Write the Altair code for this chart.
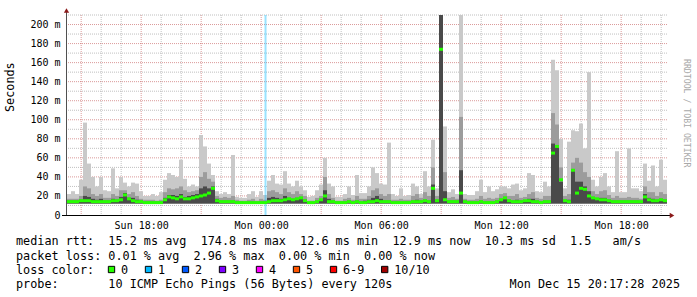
import altair as alt
import pandas as pd

MONO = "DejaVu Sans Mono"

# ---- time frame (RRDtool: 600 px for 30 h) ----
START = pd.Timestamp("2025-12-14 14:17:28", tz="UTC")
END = pd.Timestamp("2025-12-15 20:17:28", tz="UTC")
STEP_MIN = 12  # one value per 12 minutes

# ---- smoke (ms): outer max, mid shade, dark core; median rtt ----
HI = [22, 25, 22, 37, 97, 54, 40, 30, 40, 26, 25, 49, 28, 40, 34, 30, 34, 33, 25, 20, 20, 22, 20, 24, 37, 44, 42, 40, 58, 38,
      30, 32, 30, 84, 72, 54, 42, 25, 22, 24, 22, 63, 19, 18, 18, 22, 25, 19, 25, 21, 36, 42, 33, 32, 46, 33, 30, 36, 30, 26,
      19, 20, 26, 32, 60, 33, 30, 19, 19, 22, 30, 21, 42, 23, 23, 30, 50, 44, 33, 32, 76, 22, 20, 28, 20, 21, 33, 30, 22, 46,
      30, 79, 28, 210, 93, 24, 27, 22, 210, 22, 21, 21, 25, 37, 24, 30, 25, 27, 30, 30, 28, 32, 33, 26, 28, 44, 42, 25, 24, 35,
      30, 163, 152, 80, 28, 77, 89, 88, 96, 70, 150, 37, 30, 40, 44, 30, 24, 67, 24, 24, 70, 28, 28, 25, 54, 36, 52, 30, 58, 37]
MID = [17, 17, 17, 20, 30, 28, 22, 20, 22, 18, 18, 22, 20, 26, 26, 22, 24, 20, 17, 16, 16, 16, 15, 16, 24, 28, 27, 28, 30, 26,
       24, 25, 26, 40, 45, 38, 35, 20, 18, 19, 18, 20, 16, 15, 15, 16, 17, 15, 17, 16, 25, 26, 24, 22, 28, 24, 22, 25, 22, 20,
       15, 15, 18, 20, 40, 22, 18, 15, 15, 17, 18, 16, 20, 17, 17, 20, 26, 28, 22, 20, 22, 16, 16, 17, 16, 16, 20, 22, 18, 24,
       20, 50, 20, 210, 45, 18, 19, 17, 103, 17, 16, 16, 17, 20, 17, 18, 17, 18, 22, 23, 20, 20, 22, 18, 19, 22, 24, 18, 17, 20,
       20, 107, 95, 50, 20, 22, 55, 60, 55, 45, 40, 25, 22, 25, 26, 21, 18, 20, 18, 18, 19, 18, 18, 17, 30, 24, 24, 20, 24, 22]
DK = [15, 15, 15, 16, 20, 19, 17, 16, 17, 15, 15, 17, 16, 19, 23, 18, 18, 16, 15, 14, 14, 14, 14, 14, 18, 21, 21, 20, 22, 19,
      20, 21, 22, 28, 30, 28, 30, 17, 15, 15, 15, 15, 14, 14, 13, 14, 14, 13, 14, 14, 18, 19, 18, 17, 20, 18, 17, 18, 18, 16,
      13, 13, 14, 16, 26, 17, 15, 14, 14, 14, 15, 14, 15, 14, 15, 16, 18, 20, 17, 15, 15, 14, 14, 14, 14, 14, 15, 16, 15, 16,
      15, 32, 16, 210, 25, 15, 15, 15, 47, 15, 14, 14, 14, 15, 14, 14, 14, 15, 17, 19, 16, 15, 16, 15, 15, 17, 17, 15, 14, 15,
      15, 75, 72, 35, 16, 16, 47, 35, 35, 30, 25, 19, 17, 18, 18, 16, 15, 15, 15, 15, 15, 15, 15, 14, 22, 18, 17, 16, 17, 16]
MED = [14, 14, 14, 15, 15, 15, 14, 14, 14, 14, 14, 15, 15, 16, 21, 17, 15, 14, 14, 13, 13, 13, 13, 13, 16, 19, 18, 17, 19, 17,
       17, 18, 19, 20, 21, 23, 28, 15, 14, 14, 14, 14, 13, 13, 13, 13, 13, 13, 13, 13, 14, 15, 15, 15, 16, 17, 16, 17, 18, 15,
       13, 13, 14, 16, 20, 14, 14, 13, 13, 13, 14, 13, 14, 13, 13, 14, 14, 15, 14, 14, 14, 13, 13, 13, 13, 13, 14, 14, 14, 15,
       14, 28, 15, 174, 16, 14, 14, 14, 23, 14, 13, 13, 13, 14, 13, 13, 13, 14, 16, 18, 15, 14, 14, 14, 15, 15, 14, 14, 13, 14,
       14, 65, 72, 37, 15, 14, 47, 23, 28, 27, 20, 18, 17, 16, 16, 15, 14, 14, 14, 14, 14, 14, 14, 14, 19, 16, 15, 15, 16, 15]
SMOKE_FLOOR = 12

LOSS_TIMES = ["2025-12-15 00:13:00"]

# ---- legend texts ----
LINE_RTT = "median rtt:  15.2 ms avg  174.8 ms max  12.6 ms min  12.9 ms now  10.3 ms sd  1.5   am/s"
LINE_LOSS = "packet loss: 0.01 % avg  2.96 % max  0.00 % min  0.00 % now"
LINE_COLOR = "loss color:"
LINE_PROBE = "probe:       10 ICMP Echo Pings (56 Bytes) every 120s"
STAMP = "Mon Dec 15 20:17:28 2025"
LOSS_LABELS = ["0", "1", "2", "3", "4", "5", "6-9", "10/10"]
LOSS_COLORS = ["#26ff00", "#00b8ff", "#0059ff", "#7e00ff", "#ff00ff", "#ff5500", "#ff0000", "#a10000"]
X_LABELS = ["2025-12-14 18:00", "2025-12-15 00:00", "2025-12-15 06:00", "2025-12-15 12:00", "2025-12-15 18:00"]
Y_TICKS = list(range(0, 201, 20))


def ms(ts):
    t = pd.Timestamp(ts)
    if t.tzinfo is None:
        t = t.tz_localize("UTC")
    return int(t.value // 10**6)


step = pd.Timedelta(minutes=STEP_MIN)
starts = [START + step * i for i in range(len(MED))]
df = pd.DataFrame({
    "t0": [ms(t) for t in starts],
    "t1": [ms(t + step) for t in starts],
    "tc": [ms(t + step / 2) for t in starts],
    "hi": HI, "mid": MID, "dk": DK, "med": MED,
    "lo": [SMOKE_FLOOR] * len(MED),
})

XS = alt.Scale(type="utc", domain=[ms(START), ms(END)], nice=False)
YS = alt.Scale(domain=[0, 210], nice=False, clamp=True)
XA = alt.Axis(values=[ms(s) for s in X_LABELS], format="%a %H:%M", labelPadding=5, title=None,
              labelOverlap=False)
YA = alt.Axis(values=Y_TICKS, labelExpr="datum.value == 0 ? '0' : datum.value + ' m'",
              labelPadding=7, title=None)


def X(f):
    return alt.X(f, scale=XS, axis=XA)


def Y(f):
    return alt.Y(f, scale=YS, axis=YA)


hours = pd.date_range("2025-12-14 15:00", "2025-12-15 20:00", freq="h", tz="UTC")
minor_t = [ms(h) for h in hours if h.hour % 3 != 0]
major_t = [ms(h) for h in hours if h.hour % 3 == 0]
minor_v = [v for v in range(10, 211, 10) if v % 20 != 0]
major_v = list(range(20, 201, 20))

GRID_GRAY = dict(color="#8c8c8c", opacity=0.55, strokeDash=[1, 1], strokeWidth=1)
GRID_RED = dict(color="#b02020", opacity=0.45, strokeDash=[1, 1], strokeWidth=1)

g1 = alt.Chart(pd.DataFrame({"t": minor_t})).mark_rule(**GRID_GRAY).encode(x=X("t:T"))
g2 = alt.Chart(pd.DataFrame({"v": minor_v})).mark_rule(**GRID_GRAY).encode(y=Y("v:Q"))
g3 = alt.Chart(pd.DataFrame({"t": major_t})).mark_rule(**GRID_RED).encode(x=X("t:T"))
g4 = alt.Chart(pd.DataFrame({"v": major_v})).mark_rule(**GRID_RED).encode(y=Y("v:Q"))

base = alt.Chart(df)
smoke1 = base.mark_rect(color="#c9c9c9").encode(x=X("t0:T"), x2="t1:T", y=Y("lo:Q"), y2="hi:Q")
smoke2 = base.mark_rect(color="#9c9c9c").encode(x=X("t0:T"), x2="t1:T", y=Y("lo:Q"), y2="mid:Q")
smoke3 = base.mark_rect(color="#4a4a4a").encode(x=X("t0:T"), x2="t1:T", y=Y("lo:Q"), y2="dk:Q")

loss = alt.Chart(pd.DataFrame({"t": [ms(s) for s in LOSS_TIMES]})).mark_rule(
    color="#00b8ff", opacity=0.4, strokeWidth=2).encode(x=X("t:T"))

median = base.mark_tick(orient="horizontal", thickness=3, size=4, color="#26ff00", opacity=1).encode(
    x=X("tc:T"), y=Y("med:Q"))

one = pd.DataFrame({"k": [0]})
yline = alt.Chart(one).mark_rule(color="#505050", strokeWidth=1).encode(
    x=alt.value(-0.5), y=alt.value(-5), y2=alt.value(200))
xline = alt.Chart(one).mark_rule(color="#000000", strokeWidth=1).encode(
    x=alt.value(-5), x2=alt.value(605), y=alt.value(200.5))
arrow_up = alt.Chart(one).mark_point(shape="triangle-up", filled=True, color="#8b1a1a", size=28, opacity=1).encode(
    x=alt.value(-0.5), y=alt.value(-4.5))
arrow_rt = alt.Chart(one).mark_point(shape="triangle-right", filled=True, color="#8b1a1a", size=28, opacity=1).encode(
    x=alt.value(605), y=alt.value(200.5))


def txt(s, x, y, size=11.8, color="#000000", align="left", angle=0):
    return alt.Chart(one).mark_text(text=s.replace(" ", "\u00a0"), font=MONO, fontSize=size, color=color,
                                    align=align, baseline="middle", angle=angle).encode(
        x=alt.value(x), y=alt.value(y))


texts = [
    txt("Seconds", -57, 97, angle=270),
    txt("RRDTOOL / TOBI OETIKER", 619, 44, size=8.2, color="#a8a8a8", angle=90),
    txt(LINE_RTT, -51, 226),
    txt(LINE_LOSS, -51, 240.5),
    txt(LINE_COLOR, -51, 254.5),
    txt(LINE_PROBE, -51, 269),
    txt(STAMP, 613, 269, align="right"),
]

# loss colour swatches: positions follow label lengths (monospace cells of 7.1 px)
swatches = []
cx = 111.5 - 67
for i, (lab, col) in enumerate(zip(LOSS_LABELS, LOSS_COLORS)):
    if i > 0:
        cx += 29.9 + 7.1 * len(LOSS_LABELS[i - 1])
    swatches.append(alt.Chart(one).mark_square(size=40, filled=True, color=col, stroke="#000000",
                                               strokeWidth=1, opacity=1).encode(
        x=alt.value(cx), y=alt.value(254.5)))
    swatches.append(txt(lab, cx + 9.5, 254.5))

chart = alt.layer(g1, g2, g3, g4, smoke1, smoke2, smoke3, loss, median, yline, xline, arrow_up, arrow_rt,
                  *texts, *swatches).properties(
    width=600, height=200,
    autosize=alt.AutoSizeParams(type="none"),
    padding={"left": 67, "top": 15, "right": 30, "bottom": 82},
    background="#ffffff",
).configure_view(stroke=None).configure_axis(
    grid=False, ticks=False, domain=False, labelFont=MONO, labelFontSize=10, labelColor="#000000",
)

chart.save("out.html", embed_options={"renderer": "svg", "actions": False})
